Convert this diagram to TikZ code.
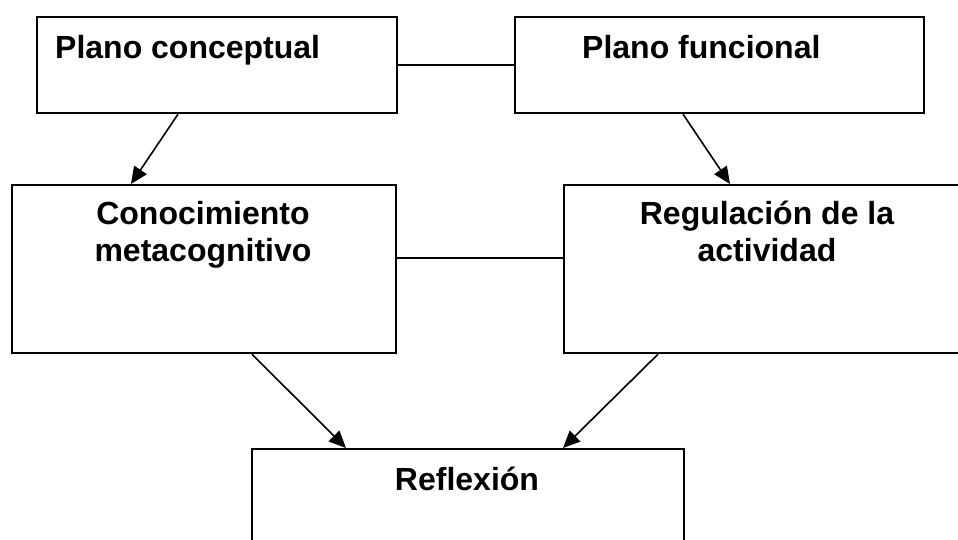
\documentclass[tikz,border=0pt]{standalone}
\usepackage{fontspec}
\setmainfont{Liberation Sans}
\usetikzlibrary{arrows.meta}
\tikzset{
  box/.style={draw, line width=2.2pt, rectangle, anchor=north west, inner sep=0pt},
  lbl/.style={font=\bfseries\fontsize{32}{37}\selectfont, inner sep=0pt, align=center},
  link/.style={line width=1.6pt},
  arr/.style={line width=1.6pt, -{Triangle[length=17pt,width=15pt]}}
}
\begin{document}
\begin{tikzpicture}[x=1pt,y=-1pt]
\clip (0,0) rectangle (958,539);
\fill[white] (0,0) rectangle (958,539);
% boxes
\node[box, minimum width=360pt, minimum height=96pt] (b1) at (36,16) {};
\node[box, minimum width=409pt, minimum height=96pt] (b2) at (514,16) {};
\node[box, minimum width=384pt, minimum height=168pt] (b3) at (11,184) {};
\node[box, minimum width=406pt, minimum height=168pt] (b4) at (563,184) {};
\node[box, minimum width=432pt, minimum height=130pt] (b5) at (251,448) {};
% labels
\node[lbl, anchor=base west] (t1) at (55,58) {Plano conceptual};
\node[lbl, anchor=base west] (t2) at (582,58) {Plano funcional};
\node[lbl, anchor=base] (t3) at (203,261) {Conocimiento\\metacognitivo};
\node[lbl, anchor=base] (t4) at (767,261) {Regulación de la\\actividad};
\node[lbl, anchor=base] (t5) at (467,490) {Reflexión};
% connectors
\draw[link] (b1.east) -- (b2.west);
\draw[link] ([yshift=11pt]b3.east) -- ([yshift=11pt]b4.west);
\draw[arr] ([xshift=142pt]b1.south west) -- ([xshift=120pt]b3.north west);
\draw[arr] ([xshift=169pt]b2.south west) -- ([xshift=167pt]b4.north west);
\draw[arr] ([xshift=241pt]b3.south west) -- ([xshift=95pt]b5.north west);
\draw[arr] ([xshift=95pt]b4.south west) -- ([xshift=312pt]b5.north west);
\end{tikzpicture}
\end{document}
